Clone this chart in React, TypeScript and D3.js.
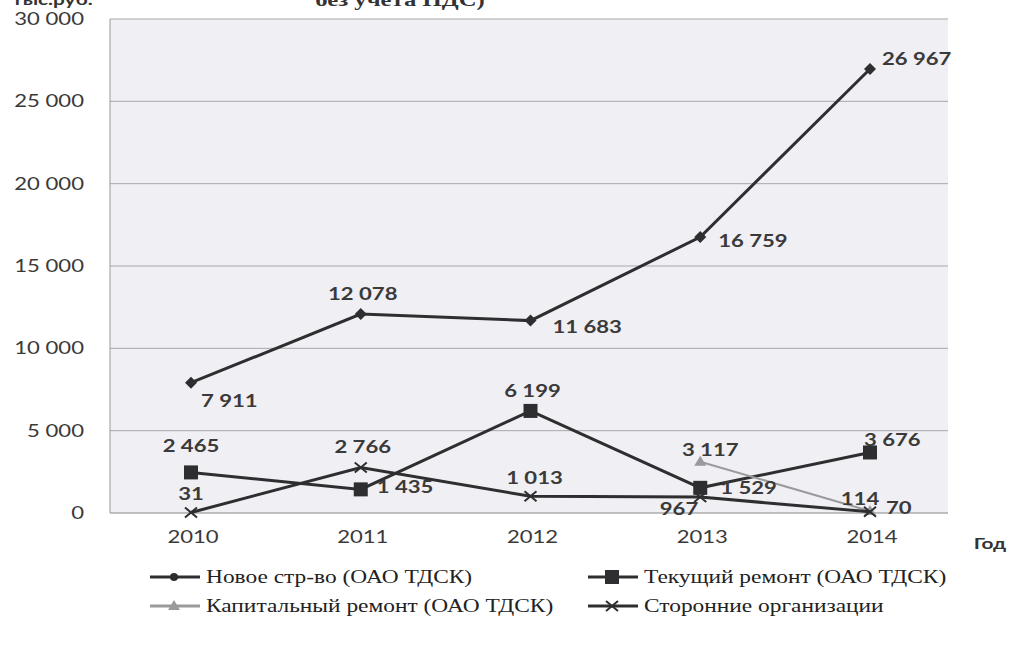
import React from "react";
import * as d3 from "d3";

const W = 1010;
const H = 645;

const years = ["2010", "2011", "2012", "2013", "2014"];
const newBuild = [7911, 12078, 11683, 16759, 26967];
const currentRepair = [2465, 1435, 6199, 1529, 3676];
const capitalRepair: (number | null)[] = [null, null, null, 3117, 114];
const thirdParty = [31, 2766, 1013, 967, 70];
const yTicks = [0, 5000, 10000, 15000, 20000, 25000, 30000];

const seriesNames = [
  "Новое стр-во (ОАО ТДСК)",
  "Текущий ремонт (ОАО ТДСК)",
  "Капитальный ремонт (ОАО ТДСК)",
  "Сторонние организации",
];

// label placement per point: [dx, dy, anchor]
type Place = [number, number, string];
const newPlace: Place[] = [[10, 18, "start"], [2, -20, "middle"], [22, 6, "start"], [18, 4, "start"], [12, -10, "start"]];
const curPlace: Place[] = [[0, -26, "middle"], [16, -2, "start"], [2, -20, "middle"], [20, 0, "start"], [-6, -12, "start"]];
const capPlace: Place[] = [[0, 0, "start"], [0, 0, "start"], [0, 0, "start"], [10, -12, "middle"], [-10, -12, "middle"]];
const thirdPlace: Place[] = [[0, -18, "middle"], [2, -20, "middle"], [4, -18, "middle"], [-2, 12, "end"], [16, -4, "start"]];

const DARK = "#2e2e30";
const GRAY = "#9a9a9c";
const SX = 1.3; // the source picture is stretched sideways

const loc = d3.formatLocale({ decimal: ",", thousands: " ", grouping: [3], currency: ["", ""] });
const fmt = loc.format(",d");

const T = ({ x, y, sx = SX, children, ...rest }: any) => (
  <text transform={`translate(${x},${y}) scale(${sx},1)`} {...rest}>
    {children}
  </text>
);

const Marker = ({ kind, x, y, color }: { kind: string; x: number; y: number; color: string }) => {
  if (kind === "diamond")
    return <path d={`M${x},${y - 6}L${x + 6},${y}L${x},${y + 6}L${x - 6},${y}Z`} fill={color} />;
  if (kind === "dot") return <circle cx={x} cy={y} r={4} fill={color} />;
  if (kind === "square") return <rect x={x - 7} y={y - 7} width={14} height={14} fill={color} />;
  if (kind === "triangle")
    return <path d={`M${x},${y - 6}L${x + 6},${y + 4}L${x - 6},${y + 4}Z`} fill={color} />;
  return (
    <path d={`M${x - 6},${y - 5}L${x + 6},${y + 5}M${x - 6},${y + 5}L${x + 6},${y - 5}`} stroke={color} strokeWidth={2} />
  );
};

export default function App() {
  const left = 110;
  const right = 948;
  const top = 19;
  const bottom = 513;

  const x = d3.scalePoint<string>().domain(years).range([191, 870]);
  const y = d3.scaleLinear().domain([0, 30000]).range([bottom, top]);

  const line = d3
    .line<number | null>()
    .defined((d) => d !== null)
    .x((_, i) => x(years[i]) as number)
    .y((d) => y(d as number));

  const series = [
    { values: newBuild as (number | null)[], color: DARK, kind: "diamond", legendKind: "dot", place: newPlace },
    { values: currentRepair as (number | null)[], color: DARK, kind: "square", legendKind: "square", place: curPlace },
    { values: capitalRepair, color: GRAY, kind: "triangle", legendKind: "triangle", place: capPlace },
    { values: thirdParty as (number | null)[], color: DARK, kind: "x", legendKind: "x", place: thirdPlace },
  ];

  const axisFont = "Lato, 'Open Sans', sans-serif";
  const legendFont = "'Liberation Serif', serif";

  const legend = [
    { x: 150, y: 577 },
    { x: 588, y: 577 },
    { x: 150, y: 606 },
    { x: 588, y: 606 },
  ];

  return (
    <svg width={W} height={H} style={{ position: "absolute", left: 0, top: 0, background: "#fff" }}>
      <T x={12} y={5} fontFamily={axisFont} fontWeight="bold" fontSize={16} fill="#333">
        тыс.руб.
      </T>
      <T x={400} y={6} fontFamily={legendFont} fontWeight="bold" fontSize={19} fill="#333" textAnchor="middle">
        без учета НДС)
      </T>

      <rect x={left} y={top} width={right - left} height={bottom - top} fill="#f0eff4" />
      {yTicks.map((t) => (
        <g key={t}>
          <line x1={left} x2={right} y1={y(t)} y2={y(t)} stroke={t === 0 ? "#888" : "#a8a8ac"} strokeWidth={1} />
          <T x={84} y={y(t)} dy="0.35em" textAnchor="end" fontFamily={axisFont} fontSize={17} fill="#3a3a3a">
            {fmt(t)}
          </T>
        </g>
      ))}
      <line x1={left} x2={left} y1={top} y2={bottom} stroke="#999" />

      {years.map((yr) => (
        <T key={yr} x={(x(yr) as number) + 2} y={537} dy="0.35em" textAnchor="middle" fontFamily={axisFont} fontSize={17} fill="#3a3a3a">
          {yr}
        </T>
      ))}
      <T x={990} y={543} dy="0.35em" textAnchor="middle" fontFamily={axisFont} fontWeight="bold" fontSize={16} fill="#333">
        Год
      </T>

      {series.map((s, si) => (
        <g key={si}>
          <path d={line(s.values) || ""} fill="none" stroke={s.color} strokeWidth={si === 2 ? 2 : 3} />
          {s.values.map((v, i) =>
            v === null ? null : (
              <Marker key={i} kind={s.kind} x={x(years[i]) as number} y={y(v)} color={s.color} />
            )
          )}
        </g>
      ))}
      {series.map((s, si) => (
        <g key={"l" + si} fontFamily={axisFont} fontWeight="bold" fontSize={17} fill="#3a3a3a">
          {s.values.map((v, i) =>
            v === null ? null : (
              <T
                key={i}
                x={(x(years[i]) as number) + s.place[i][0]}
                y={y(v) + s.place[i][1]}
                dy="0.35em"
                textAnchor={s.place[i][2]}
              >
                {fmt(v)}
              </T>
            )
          )}
        </g>
      ))}

      {series.map((s, si) => (
        <g key={"lg" + si}>
          <line x1={legend[si].x} x2={legend[si].x + 50} y1={legend[si].y} y2={legend[si].y} stroke={s.color} strokeWidth={3} />
          <Marker kind={s.legendKind} x={legend[si].x + 24} y={legend[si].y} color={s.color} />
          <T x={legend[si].x + 56} y={legend[si].y} dy="0.35em" fontFamily={legendFont} fontSize={18} fill="#222">
            {seriesNames[si]}
          </T>
        </g>
      ))}
    </svg>
  );
}
